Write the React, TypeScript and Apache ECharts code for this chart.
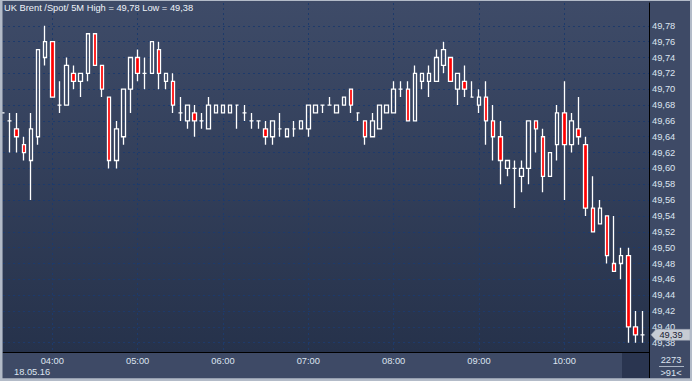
import React, { useEffect, useRef } from "react";
import * as echarts from "echarts";

const SYMBOL = "UK Brent /Spot/ 5M";
const DATE_LABEL = "18.05.16";
const TOTAL_BARS = "2273";
const START_TIME = "03:25";
const STEP_MINUTES = 5;

const opens = [
  49.67, 49.66, 49.65, 49.63, 49.61, 49.64, 49.74, 49.76, 49.68, 49.68,
  49.72, 49.71, 49.72, 49.77, 49.73, 49.69, 49.61, 49.64, 49.70, 49.74,
  49.72, 49.72, 49.75, 49.71, 49.71, 49.67, 49.66, 49.67, 49.66, 49.65,
  49.67, 49.67, 49.67, 49.68, 49.67, 49.66, 49.66, 49.65, 49.64, 49.65,
  49.64, 49.65, 49.65, 49.65, 49.67, 49.68, 49.68, 49.67, 49.68, 49.70,
  49.67, 49.66, 49.64, 49.65, 49.67, 49.67, 49.70, 49.70, 49.66, 49.71,
  49.71, 49.71, 49.73, 49.74, 49.70, 49.71, 49.69, 49.68, 49.69, 49.66,
  49.64, 49.60, 49.60, 49.59, 49.60, 49.66, 49.64, 49.59, 49.63, 49.67,
  49.63, 49.65, 49.63, 49.55, 49.53, 49.54, 49.48, 49.48, 49.49, 49.40,
  49.39,
];
const closes = [
  49.67, 49.66, 49.64, 49.62, 49.65, 49.75, 49.76, 49.69, 49.68, 49.73,
  49.71, 49.72, 49.77, 49.73, 49.70, 49.61, 49.65, 49.70, 49.74, 49.72,
  49.72, 49.76, 49.72, 49.72, 49.68, 49.67, 49.68, 49.66, 49.66, 49.68,
  49.68, 49.68, 49.68, 49.68, 49.67, 49.66, 49.66, 49.64, 49.66, 49.65,
  49.65, 49.65, 49.66, 49.68, 49.68, 49.68, 49.68, 49.68, 49.69, 49.68,
  49.67, 49.64, 49.66, 49.68, 49.68, 49.70, 49.70, 49.66, 49.72, 49.72,
  49.72, 49.74, 49.75, 49.71, 49.72, 49.70, 49.69, 49.69, 49.66, 49.64,
  49.61, 49.61, 49.60, 49.60, 49.66, 49.65, 49.59, 49.62, 49.67, 49.63,
  49.66, 49.64, 49.55, 49.52, 49.55, 49.49, 49.47, 49.49, 49.40, 49.39,
  49.39,
];
const lows = [
  49.67, 49.62, 49.62, 49.61, 49.56, 49.63, 49.73, 49.69, 49.67, 49.68,
  49.70, 49.69, 49.71, 49.73, 49.69, 49.60, 49.60, 49.63, 49.67, 49.71,
  49.70, 49.72, 49.70, 49.70, 49.67, 49.66, 49.65, 49.64, 49.65, 49.65,
  49.67, 49.67, 49.67, 49.65, 49.66, 49.65, 49.65, 49.63, 49.63, 49.64,
  49.64, 49.64, 49.65, 49.64, 49.67, 49.67, 49.68, 49.67, 49.68, 49.67,
  49.66, 49.63, 49.64, 49.65, 49.67, 49.67, 49.69, 49.66, 49.66, 49.70,
  49.69, 49.71, 49.72, 49.71, 49.68, 49.69, 49.69, 49.67, 49.63, 49.61,
  49.58, 49.59, 49.55, 49.57, 49.58, 49.62, 49.57, 49.59, 49.61, 49.56,
  49.62, 49.63, 49.54, 49.52, 49.53, 49.48, 49.47, 49.46, 49.38, 49.38,
  49.38,
];
const highs = [
  49.67, 49.67, 49.67, 49.64, 49.67, 49.75, 49.78, 49.76, 49.71, 49.74,
  49.73, 49.72, 49.77, 49.77, 49.73, 49.69, 49.66, 49.70, 49.74, 49.75,
  49.74, 49.76, 49.76, 49.72, 49.72, 49.69, 49.68, 49.68, 49.67, 49.69,
  49.68, 49.68, 49.68, 49.68, 49.68, 49.67, 49.66, 49.66, 49.66, 49.67,
  49.65, 49.66, 49.66, 49.68, 49.68, 49.68, 49.69, 49.68, 49.69, 49.70,
  49.67, 49.66, 49.67, 49.68, 49.68, 49.71, 49.71, 49.71, 49.73, 49.72,
  49.73, 49.75, 49.76, 49.74, 49.72, 49.73, 49.71, 49.70, 49.71, 49.68,
  49.66, 49.61, 49.61, 49.61, 49.66, 49.66, 49.65, 49.62, 49.68, 49.71,
  49.67, 49.69, 49.64, 49.59, 49.56, 49.54, 49.54, 49.50, 49.50, 49.42,
  49.42,
];

const timeTicks = ["04:00", "05:00", "06:00", "07:00", "08:00", "09:00", "10:00"];
const priceTicks = [
  49.38, 49.4, 49.42, 49.44, 49.46, 49.48, 49.5, 49.52, 49.54, 49.56, 49.58,
  49.6, 49.62, 49.64, 49.66, 49.68, 49.7, 49.72, 49.74, 49.76, 49.78,
];

const toMin = (s: string) => {
  const [h, m] = s.split(":").map(Number);
  return h * 60 + m;
};
const pad = (n: number) => (n < 10 ? "0" + n : "" + n);
const fmtTime = (v: number) => pad(Math.floor(v / 60)) + ":" + pad(Math.round(v % 60));
const fmtPrice = (v: number) => v.toFixed(2).replace(".", ",");

const FONT = "'Liberation Sans', Arial, sans-serif";
const FS = 9.3;
const LABEL_COLOR = "#dde4f0";
const GRID_LINE = "#1d3a6b";

export default function App() {
  const ref = useRef<HTMLDivElement>(null);

  useEffect(() => {
    document.body.style.margin = "0";
    if (!ref.current) return;
    const chart = echarts.init(ref.current, undefined, { renderer: "svg" });

    const startMin = toMin(START_TIME);
    const times = opens.map((_, i) => startMin + i * STEP_MINUTES);
    const candles = times.map((t, i) => [t, opens[i], closes[i], lows[i], highs[i]]);
    const hourValues = timeTicks.map(toMin);

    const xMin = startMin + 0.34;
    const xMax = toMin("10:59") + 0.55;
    const yMin = 49.3683;
    const yMax = 49.8088;

    const hi = Math.max(...highs);
    const lo = Math.min(...lows);

    chart.setOption({
      animation: false,
      backgroundColor: "#3e4a66",
      textStyle: { fontFamily: FONT },
      grid: {
        left: 3,
        top: 3,
        right: 43,
        bottom: 29,
        show: true,
        borderWidth: 0,
        backgroundColor: new echarts.graphic.LinearGradient(0, 0, 0, 1, [
          { offset: 0, color: "#3e4b68" },
          { offset: 1, color: "#26324b" },
        ]),
      },
      xAxis: {
        type: "value",
        min: xMin,
        max: xMax,
        position: "bottom",
        axisLine: { show: true, onZero: false, lineStyle: { color: "#000", width: 1 } },
        axisTick: { show: false, customValues: hourValues },
        axisLabel: {
          customValues: hourValues,
          formatter: (v: number) => fmtTime(v),
          color: LABEL_COLOR,
          fontSize: FS,
          fontFamily: FONT,
          margin: 4,
        },
        splitLine: { show: true, lineStyle: { color: GRID_LINE, type: [2, 3], width: 1 } },
      },
      yAxis: {
        type: "value",
        position: "right",
        min: yMin,
        max: yMax,
        scale: true,
        axisLine: { show: true, onZero: false, lineStyle: { color: "#000", width: 1 } },
        axisTick: { show: false, customValues: priceTicks },
        axisLabel: {
          customValues: priceTicks,
          formatter: (v: number) => fmtPrice(v),
          color: LABEL_COLOR,
          fontSize: FS,
          fontFamily: FONT,
          margin: 3,
        },
        splitLine: { show: true, lineStyle: { color: GRID_LINE, type: [2, 3], width: 1 } },
      },
      series: [
        {
          type: "candlestick",
          data: candles,
          barWidth: 4,
          clip: true,
          silent: true,
          itemStyle: {
            color: "rgba(0,0,0,0)",
            color0: "#ff0000",
            borderColor: "#ffffff",
            borderColor0: "#ffffff",
            borderColorDoji: "#ffffff",
            borderWidth: 1.3,
          },
        },
      ],
    });

    const lastClose = closes[closes.length - 1];
    const py = chart.convertToPixel({ yAxisIndex: 0 }, lastClose) as number;
    const border = "#b3bbc8";

    chart.setOption({
      graphic: {
        elements: [
          {
            type: "text",
            left: 4,
            top: 3,
            z: 10,
            style: {
              text: `${SYMBOL} High = ${fmtPrice(hi)} Low = ${fmtPrice(lo)}`,
              fill: "#eef2f8",
              font: `${FS}px ${FONT}`,
            },
          },
          {
            type: "text",
            left: 14,
            top: 367,
            z: 10,
            style: { text: DATE_LABEL, fill: LABEL_COLOR, font: `${FS}px ${FONT}` },
          },
          {
            type: "rect",
            shape: { x: 622, y: 353, width: 27, height: 25 },
            z: 5,
            style: { fill: "#2a3550" },
          },
          {
            type: "line",
            shape: { x1: 649.5, y1: 352, x2: 649.5, y2: 378 },
            z: 6,
            style: { stroke: "#000", lineWidth: 1 },
          },
          {
            type: "text",
            x: 671,
            y: 360,
            z: 10,
            style: {
              text: TOTAL_BARS,
              fill: LABEL_COLOR,
              font: `${FS}px ${FONT}`,
              align: "center",
              verticalAlign: "middle",
            },
          },
          {
            type: "line",
            shape: { x1: 659, y1: 366.5, x2: 684, y2: 366.5 },
            z: 10,
            style: { stroke: "#aab4c4", lineWidth: 1 },
          },
          {
            type: "text",
            x: 671,
            y: 372.5,
            z: 10,
            style: {
              text: ">" + opens.length + "<",
              fill: LABEL_COLOR,
              font: `${FS}px ${FONT}`,
              align: "center",
              verticalAlign: "middle",
            },
          },
          {
            type: "polygon",
            z: 20,
            shape: {
              points: [
                [651, py],
                [656, py - 5.5],
                [690, py - 5.5],
                [690, py + 5.5],
                [656, py + 5.5],
              ],
            },
            style: { fill: "#c6cbd4", stroke: "#9aa2b0", lineWidth: 0.5 },
          },
          {
            type: "text",
            x: 671,
            y: py + 0.5,
            z: 21,
            style: {
              text: fmtPrice(lastClose),
              fill: "#1b2233",
              font: `${FS}px ${FONT}`,
              align: "center",
              verticalAlign: "middle",
            },
          },
          { type: "rect", shape: { x: 0, y: 0, width: 2.5, height: 381 }, z: 30, style: { fill: border } },
          { type: "rect", shape: { x: 0, y: 378.3, width: 692, height: 3 }, z: 30, style: { fill: border } },
          { type: "rect", shape: { x: 690, y: 0, width: 2, height: 381 }, z: 30, style: { fill: border } },
          { type: "rect", shape: { x: 0, y: 0, width: 692, height: 1 }, z: 30, style: { fill: border } },
        ],
      },
    });

    return () => chart.dispose();
  }, []);

  return <div ref={ref} style={{ width: 692, height: 381 }} />;
}
